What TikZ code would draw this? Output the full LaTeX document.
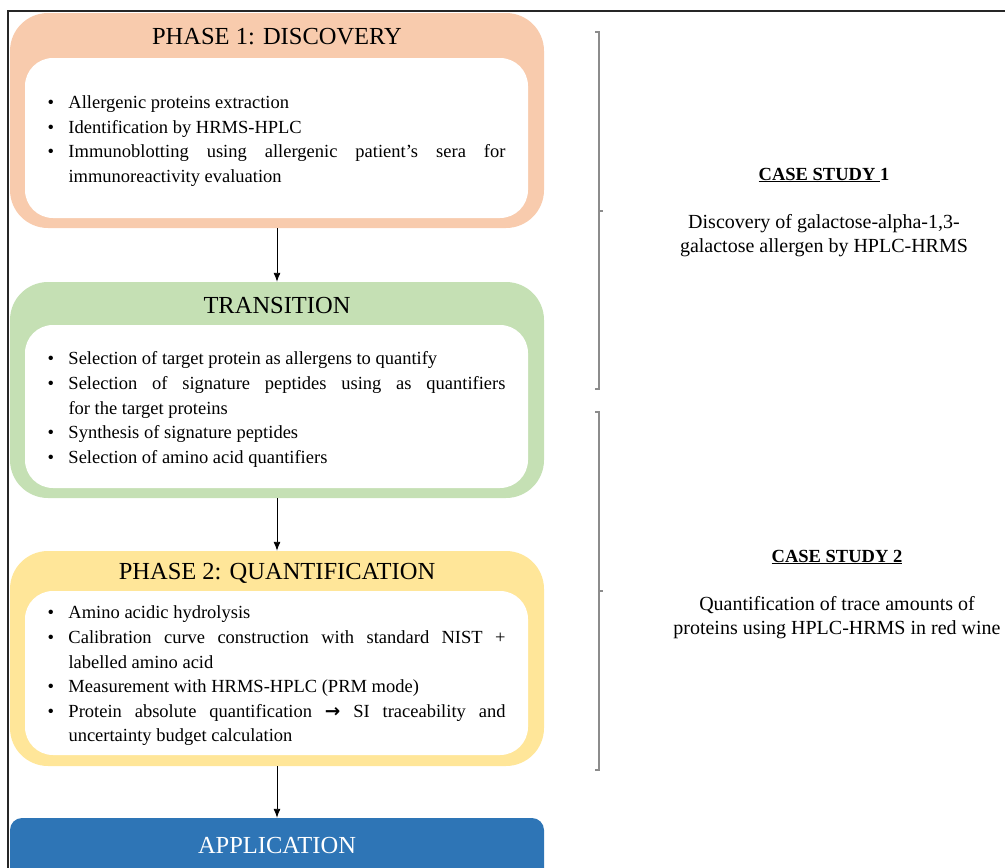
\documentclass[tikz,border=0pt]{standalone}
\usepackage{fontspec}
\setmainfont{Liberation Serif}
\newfontfamily\arrowfont{DejaVu Sans}
\usetikzlibrary{positioning,arrows.meta}

\definecolor{discfill}{HTML}{F8CBAD}
\definecolor{transfill}{HTML}{C5E0B4}
\definecolor{quantfill}{HTML}{FFE699}
\definecolor{applfill}{HTML}{2E75B6}
\definecolor{bracegray}{HTML}{8C8C8C}

\hyphenpenalty=10000
\newcommand{\bitem}[1]{\noindent\hangindent=21pt\hangafter=1\makebox[21pt][l]{\textbullet}#1\par}

\begin{document}
\begin{tikzpicture}[x=1pt, y=-1pt, >={Latex[length=9pt,width=7pt]},
  phase/.style={rounded corners=38pt, minimum width=534pt, inner sep=0pt},
  panel/.style={fill=white, rounded corners=28pt, minimum width=503pt, inner sep=0pt},
  title/.style={font=\fontsize{24.5}{29}\selectfont, inner sep=0pt},
  items/.style={text width=458pt, align=justify, inner sep=0pt, yshift=-3pt,
      font=\fontsize{18.5}{24.6}\selectfont},
  flow/.style={->, line width=0.9pt, black},
  casehead/.style={font=\fontsize{18.5}{22}\selectfont\bfseries, inner sep=0pt},
  case/.style={align=center, font=\fontsize{20}{24}\selectfont, inner sep=0pt},
  bracket/.style={bracegray, line width=1.2pt}]

  \useasboundingbox (0,0) rectangle (1005,868);
  \clip (0,0) rectangle (1005,868);

  % Frame
  \draw[line width=1.2pt, black!85] (8,868) -- (8,11) -- (1005,11);

  % Phase 1
  \node[phase, fill=discfill, minimum height=215pt] (disc) at (277,120.5) {};
  \node[title] (disctitle) at (277,37) {PHASE 1: DISCOVERY};
  \node[panel, minimum height=160pt] (discpanel) at (276.5,138) {};
  \node[items] (discitems) at (discpanel.center) {%
    \bitem{Allergenic proteins extraction}
    \bitem{Identification by HRMS-HPLC}
    \bitem{Immunoblotting using allergenic patient’s sera for\linebreak immunoreactivity evaluation}};

  % Transition
  \node[phase, fill=transfill, minimum height=216pt] (trans) at (277,390) {};
  \node[title] (transtitle) at (277,306) {TRANSITION};
  \node[panel, minimum height=163pt] (transpanel) at (276.5,406.5) {};
  \node[items] (transitems) at (transpanel.center) {%
    \bitem{Selection of target protein as allergens to quantify}
    \bitem{Selection of signature peptides using as quantifiers\linebreak for the target proteins}
    \bitem{Synthesis of signature peptides}
    \bitem{Selection of amino acid quantifiers}};

  % Phase 2
  \node[phase, fill=quantfill, minimum height=215pt] (quant) at (277,658.5) {};
  \node[title] (quanttitle) at (277,573) {PHASE 2: QUANTIFICATION};
  \node[panel, minimum height=164pt] (quantpanel) at (276.5,673) {};
  \node[items] (quantitems) at (quantpanel.center) {%
    \bitem{Amino acidic hydrolysis}
    \bitem{Calibration curve construction with standard NIST +\linebreak labelled amino acid}
    \bitem{Measurement with HRMS-HPLC (PRM mode)}
    \bitem{Protein absolute quantification {\arrowfont\bfseries →} SI traceability and\linebreak uncertainty budget calculation}};

  % Application
  \node[phase, rounded corners=12pt, fill=applfill, minimum height=82pt] (appl) at (277,859) {};
  \node[title, text=white] (appltitle) at (277,845) {APPLICATION};

  % Flow arrows
  \draw[flow] (disc.south) -- (trans.north);
  \draw[flow] (trans.south) -- (quant.north);
  \draw[flow] (quant.south) -- (appl.north);

  % Brackets
  \foreach \ya/\ym/\yb in {32/211/389, 412/591/770} {
      \draw[bracket] (595,\ya) -- (599,\ya) -- (599,\yb) -- (595,\yb);
      \draw[bracket] (599,\ym) -- (603,\ym);
  }

  % Case studies
  \node[casehead] (case1) at (824,175) {\underline{CASE STUDY\ }1};
  \node[case] (case1text) at (824,235.5) {Discovery of galactose-alpha-1,3-\\galactose allergen by HPLC-HRMS};
  \node[casehead] (case2) at (837,557) {\underline{CASE STUDY 2}};
  \node[case] (case2text) at (837,618) {Quantification of trace amounts of\\proteins using HPLC-HRMS in red wine};

\end{tikzpicture}
\end{document}
